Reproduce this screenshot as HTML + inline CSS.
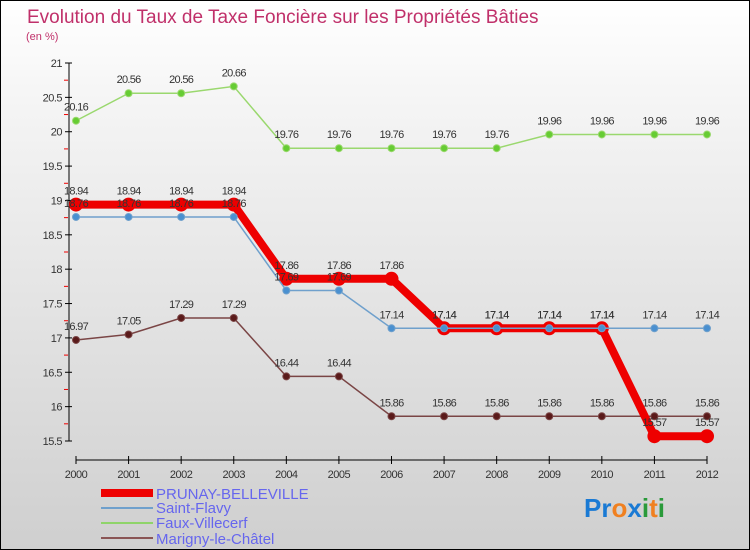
<!DOCTYPE html>
<html><head><meta charset="utf-8"><style>
body{margin:0}
#c{width:748px;height:548px;border:1px solid #000;background:linear-gradient(#ffffff,#f4f4f4 20%,#cfcfcf);position:relative;overflow:hidden;font-family:"Liberation Sans",sans-serif}
</style></head><body>
<div id="c">
<svg id="s" width="748" height="548" style="position:absolute;left:0;top:0" font-family="Liberation Sans, sans-serif">
<text x="26" y="22" font-size="19" fill="#c0306a">Evolution du Taux de Taxe Foncière sur les Propriétés Bâties</text>
<text x="25" y="39" font-size="11" fill="#c0306a">(en %)</text>
<g id="axes"></g><g id="series"></g>
<g>
<rect x="100" y="488" width="52" height="8" fill="#ee0000"/>
<text x="155" y="498" font-size="15" fill="#6666ee">PRUNAY-BELLEVILLE</text>
<rect x="100" y="506" width="52" height="2" fill="#6fa0cc"/>
<text x="155" y="512" font-size="15" fill="#6666ee">Saint-Flavy</text>
<rect x="100" y="521" width="52" height="2" fill="#8fd46a"/>
<text x="155" y="527" font-size="15" fill="#6666ee">Faux-Villecerf</text>
<rect x="100" y="536" width="52" height="2" fill="#8a5555"/>
<text x="155" y="543" font-size="15" fill="#6666ee">Marigny-le-Châtel</text>
</g>
<text x="583" y="516" font-size="26" font-weight="bold"><tspan fill="#1a7ad4">Pr</tspan><tspan fill="#f08020">o</tspan><tspan fill="#1a7ad4">x</tspan><tspan fill="#2a9a3a">i</tspan><tspan fill="#f08020">t</tspan><tspan fill="#2a9a3a">i</tspan></text>
</svg>
</div>
<script>
const years=[2000,2001,2002,2003,2004,2005,2006,2007,2008,2009,2010,2011,2012];
const yTicks=[15.5,16,16.5,17,17.5,18,18.5,19,19.5,20,20.5,21];
const prunay=[18.94,18.94,18.94,18.94,17.86,17.86,17.86,17.14,17.14,17.14,17.14,15.57,15.57];
const saintFlavy=[18.76,18.76,18.76,18.76,17.69,17.69,17.14,17.14,17.14,17.14,17.14,17.14,17.14];
const faux=[20.16,20.56,20.56,20.66,19.76,19.76,19.76,19.76,19.76,19.96,19.96,19.96,19.96];
const marigny=[16.97,17.05,17.29,17.29,16.44,16.44,15.86,15.86,15.86,15.86,15.86,15.86,15.86];
const NS="http://www.w3.org/2000/svg";
const xs=i=>75+i*(706-75)/(years.length-1);
const ys=v=>440-(v-15.5)*(440-62)/5.5;
function mk(t,a,p){const e=document.createElementNS(NS,t);for(const k in a)e.setAttribute(k,a[k]);p.appendChild(e);return e;}
const ax=document.getElementById('axes');
mk('line',{x1:68,y1:62,x2:68,y2:440,stroke:'#000'},ax);
mk('line',{x1:75,y1:459,x2:706,y2:459,stroke:'#000'},ax);
yTicks.forEach((v,k)=>{const y=ys(v);
mk('line',{x1:64,y1:y,x2:71,y2:y,stroke:'#000'},ax);
if(k<yTicks.length-1)mk('line',{x1:63,y1:ys(v+0.25),x2:67,y2:ys(v+0.25),stroke:'#e00'},ax);
const t=mk('text',{x:61,y:y+4,'font-size':11,fill:'#333','text-anchor':'end','letter-spacing':'-0.5'},ax);t.textContent=v;

});
years.forEach((yr,i)=>{const x=xs(i);
mk('line',{x1:x,y1:455,x2:x,y2:463,stroke:'#000'},ax);
const t=mk('text',{x:x,y:477,'font-size':11,fill:'#333','text-anchor':'middle','letter-spacing':'-0.5'},ax);t.textContent=yr;

});
const sg=document.getElementById('series');
function draw(name,data,col,w,r,dot){const g=mk('g',{},sg);


mk('polyline',{points:data.map((v,i)=>xs(i)+','+ys(v)).join(' '),fill:'none',stroke:col,'stroke-width':w},g);
data.forEach((v,i)=>{const c=mk('circle',{cx:xs(i),cy:ys(v),r:r,fill:dot,stroke:col},g);


const t=mk('text',{x:xs(i),y:ys(v)-10,'font-size':11,fill:'#333','text-anchor':'middle','letter-spacing':'-0.7'},g);t.textContent=v;});}
draw('series-faux-villecerf',faux,'#9ad86e',1.5,3.5,'#66cc33');
draw('series-marigny',marigny,'#7a4545',1.5,3.5,'#5a1a1a');
draw('series-prunay',prunay,'#ee0000',8,6.5,'#ee0000');
draw('series-saint-flavy',saintFlavy,'#6fa0cc',1.5,3.5,'#4a90d0');
</script>
</body></html>
